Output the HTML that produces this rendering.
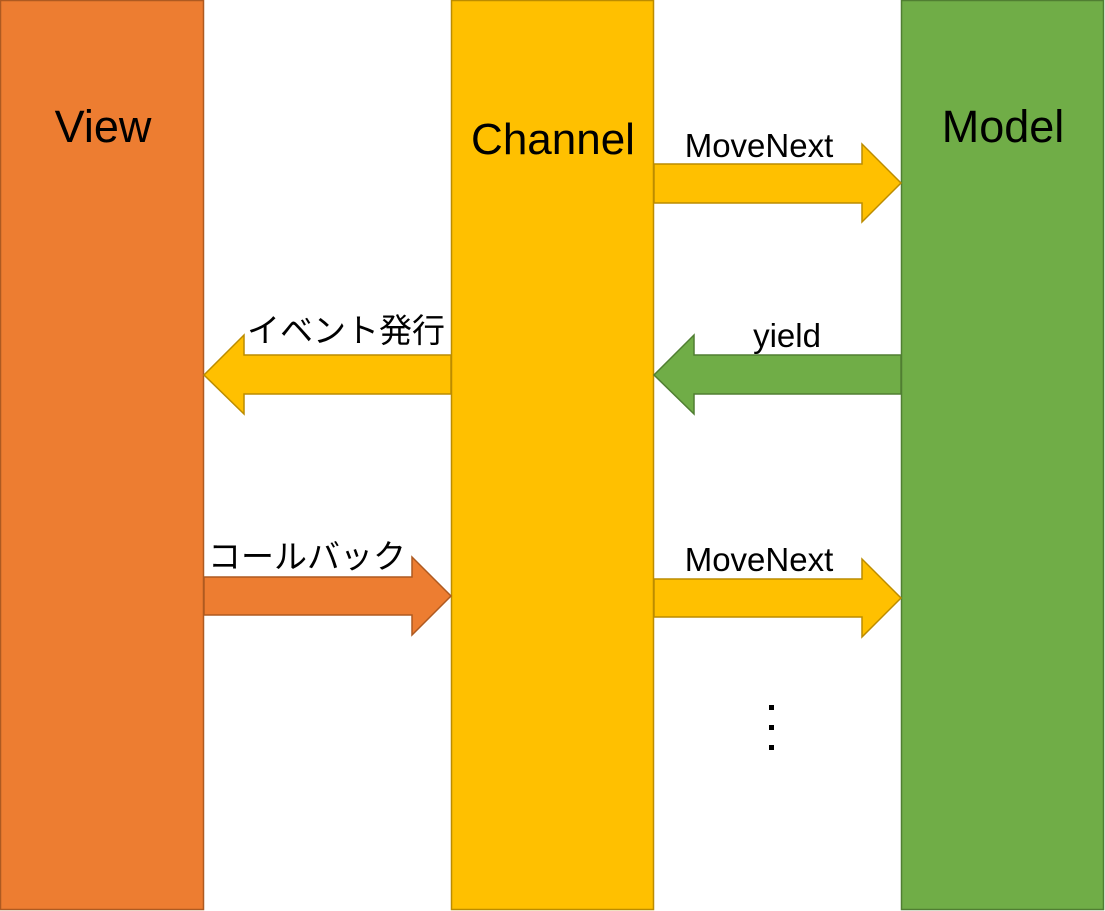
<!DOCTYPE html>
<html><head><meta charset="utf-8"><style>
html,body{margin:0;padding:0;background:#fff;}
svg{display:block;}
text{font-family:"Liberation Sans","Noto Sans CJK JP",sans-serif;fill:#000;}
</style></head><body>
<svg width="1105" height="911" viewBox="0 0 1105 911" xmlns="http://www.w3.org/2000/svg">
<rect x="0.5" y="0.5" width="203" height="909" fill="#ED7D31" stroke="#AE5A21" stroke-width="1.5"/>
<rect x="451.5" y="0.5" width="202" height="909" fill="#FFC000" stroke="#BC8C00" stroke-width="1.5"/>
<rect x="901.5" y="0.5" width="202" height="909" fill="#70AD47" stroke="#507E32" stroke-width="1.5"/>
<polygon points="654,164 862,164 862,144 901,183 862,222 862,203 654,203" fill="#FFC000" stroke="#BC8C00" stroke-width="1.5"/>
<polygon points="901,355 694,355 694,335 654,375 694,414 694,394 901,394" fill="#70AD47" stroke="#507E32" stroke-width="1.5"/>
<polygon points="451,355 244,355 244,335 204,375 244,414 244,394 451,394" fill="#FFC000" stroke="#BC8C00" stroke-width="1.5"/>
<polygon points="204,577 412,577 412,557 451,596 412,635 412,615 204,615" fill="#ED7D31" stroke="#AE5A21" stroke-width="1.5"/>
<polygon points="654,579 862,579 862,559 901,598 862,637 862,617 654,617" fill="#FFC000" stroke="#BC8C00" stroke-width="1.5"/>
<text x="103" y="142" font-size="45" text-anchor="middle">View</text>
<text x="553" y="154" font-size="44" text-anchor="middle">Channel</text>
<text x="1003" y="142" font-size="45" text-anchor="middle">Model</text>
<text x="759" y="157" font-size="33" text-anchor="middle">MoveNext</text>
<text x="787" y="347" font-size="33" text-anchor="middle">yield</text>
<text x="346" y="342" font-size="33" text-anchor="middle">イベント発行</text>
<text x="307" y="568" font-size="33" text-anchor="middle">コールバック</text>
<text x="759" y="571" font-size="33" text-anchor="middle">MoveNext</text>
<rect x="769" y="705" width="5" height="5" fill="#000"/>
<rect x="769" y="725" width="5" height="5" fill="#000"/>
<rect x="769" y="745" width="5" height="5" fill="#000"/>
</svg>
</body></html>
